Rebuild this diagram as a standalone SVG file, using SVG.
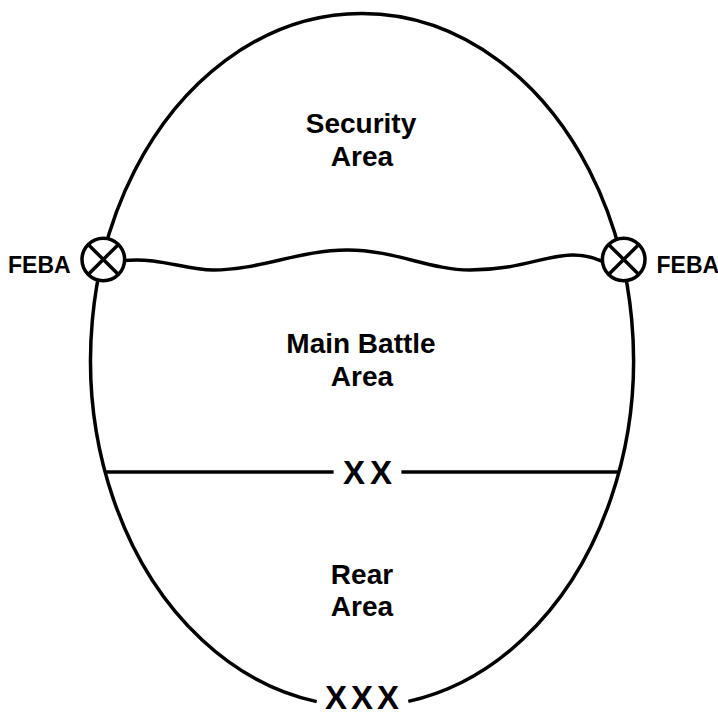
<svg xmlns="http://www.w3.org/2000/svg" width="718" height="716" viewBox="0 0 718 716">
<style>
.ln{fill:none;stroke:#000;stroke-width:3.5}
.lbl{font-family:"Liberation Sans",Arial,sans-serif;font-weight:bold;font-size:28px;fill:#000;text-anchor:middle}
.feba{font-family:"Liberation Sans",Arial,sans-serif;font-weight:bold;font-size:23px;fill:#000}
.bnd{font-family:"Liberation Sans",Arial,sans-serif;font-weight:bold;font-size:33px;fill:#000}
.mk{fill:#fff;stroke:#000;stroke-width:3.5}
</style>
<rect width="718" height="716" fill="#fff"/>
<g id="connectors">
<path id="outline" class="ln" d="M408.3 701.4 A271.5 346.5 0 1 0 316.7 701.6"/>
<path id="feba-line" class="ln" d="M124 260.5 C160 257 185 270 213 270 C260 270 300 250 347 250 C395 250 430 270 470 270 C520 270 545 255 573 255 C590 255 596 259 603 261.5"/>
<line id="div-left" class="ln" x1="105" y1="472" x2="333.6" y2="472"/>
<line id="div-right" class="ln" x1="401.4" y1="472" x2="619" y2="472"/>
</g>
<g id="feba-left">
<circle class="mk" cx="103.3" cy="259.5" r="21.3"/>
<path class="ln" d="M88.2 244.4 L118.4 274.6 M118.4 244.4 L88.2 274.6"/>
<text class="feba" x="8" y="272.5">FEBA</text>
</g>
<g id="feba-right">
<circle class="mk" cx="623.7" cy="259.5" r="21.3"/>
<path class="ln" d="M608.6 244.4 L638.8 274.6 M638.8 244.4 L608.6 274.6"/>
<text class="feba" x="656.5" y="272.5">FEBA</text>
</g>
<g id="security-area">
<text class="lbl" x="361" y="133">Security</text>
<text class="lbl" x="362" y="166">Area</text>
</g>
<g id="main-battle-area">
<text class="lbl" x="361" y="353">Main Battle</text>
<text class="lbl" x="362" y="386">Area</text>
</g>
<g id="rear-area">
<text class="lbl" x="362" y="584">Rear</text>
<text class="lbl" x="362" y="616">Area</text>
</g>
<g id="boundary-xx">
<text class="bnd" x="343" y="484" letter-spacing="5">XX</text>
</g>
<g id="boundary-xxx">
<text class="bnd" x="325" y="709" letter-spacing="4">XXX</text>
</g>
</svg>
